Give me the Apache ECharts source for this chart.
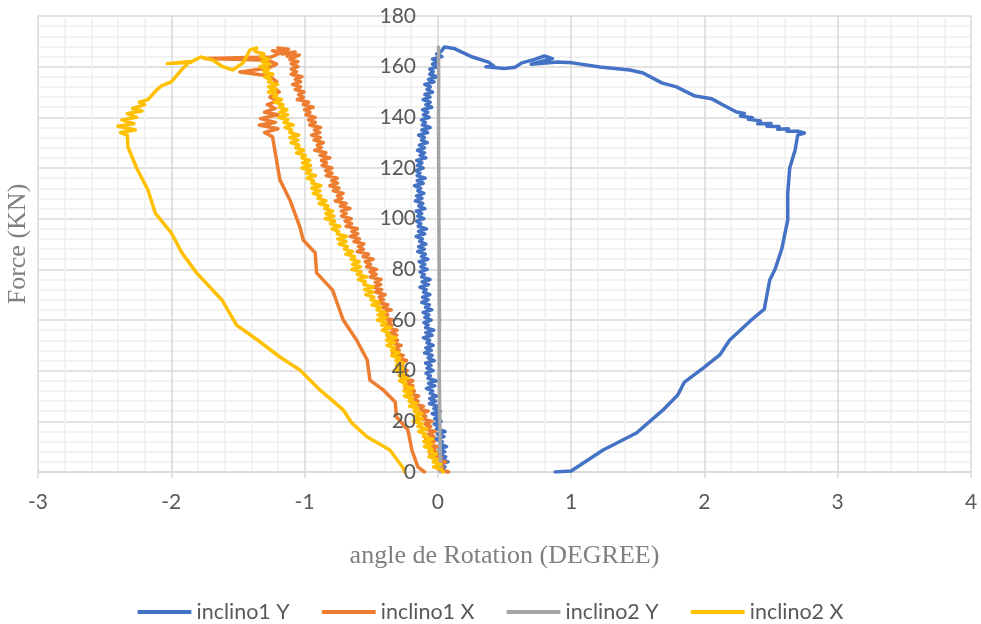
<!DOCTYPE html>
<html>
<head>
<meta charset="utf-8">
<script src="https://cdn.jsdelivr.net/npm/echarts@6/dist/echarts.min.js"></script>
<style>html,body{margin:0;padding:0;background:#fff}#c{width:981px;height:624px}</style>
</head>
<body>
<div id="c"></div>
<script>
// Series names
const seriesNames = ['inclino1 Y', 'inclino1 X', 'inclino2 Y', 'inclino2 X'];
// x tick values / y tick values
const xTicks = [-3, -2, -1, 0, 1, 2, 3, 4];
const yTicks = [0, 20, 40, 60, 80, 100, 120, 140, 160, 180];

// inclino1 Y : [angle (deg), force (kN)]
const inclino1Y = [
 [0.07,0],[0.024,1],[0.053,2],[0.012,3],[0.076,4],[0.03,5],[0.059,6],[0.003,7],[0.052,8],[0.011,9],
 [0.065,10],[0.017,11],[0.033,12],[-0.016,13],[0.046,14],[-0.003,15],[0.054,16],[-0.01,17],[0.007,18],[-0.027,19],
 [0.025,20],[-0.024,21],[0.002,22],[-0.042,23],[0.019,24],[-0.03,25],[-0.004,26],[-0.063,27],[-0.017,28],[-0.061,29],
 [-0.01,30],[-0.057,31],[-0.039,32],[-0.086,33],[-0.023,34],[-0.07,35],[-0.012,36],[-0.074,37],[-0.056,38],[-0.088,39],
 [-0.035,40],[-0.081,41],[-0.051,42],[-0.092,43],[-0.027,44],[-0.073,45],[-0.043,46],[-0.099,47],[-0.049,48],[-0.09,49],
 [-0.035,50],[-0.081,51],[-0.062,52],[-0.108,53],[-0.044,54],[-0.09,55],[-0.031,56],[-0.092,57],[-0.073,58],[-0.104,59],
 [-0.05,60],[-0.097,61],[-0.068,62],[-0.11,63],[-0.046,64],[-0.093,65],[-0.064,66],[-0.121,67],[-0.072,68],[-0.114,69],
 [-0.06,70],[-0.107,71],[-0.088,72],[-0.135,73],[-0.071,74],[-0.118,75],[-0.059,76],[-0.121,77],[-0.102,78],[-0.134,79],
 [-0.08,80],[-0.127,81],[-0.098,82],[-0.14,83],[-0.076,84],[-0.123,85],[-0.094,86],[-0.151,87],[-0.102,88],[-0.144,89],
 [-0.09,90],[-0.136,91],[-0.117,92],[-0.163,93],[-0.099,94],[-0.145,95],[-0.086,96],[-0.147,97],[-0.128,98],[-0.159,99],
 [-0.105,100],[-0.151,101],[-0.121,102],[-0.162,103],[-0.097,104],[-0.143,105],[-0.113,106],[-0.169,107],[-0.119,108],[-0.16,109],
 [-0.105,110],[-0.15,111],[-0.13,112],[-0.175,113],[-0.11,114],[-0.155,115],[-0.095,116],[-0.155,117],[-0.135,118],[-0.165,119],
 [-0.11,120],[-0.153,121],[-0.12,122],[-0.158,123],[-0.09,124],[-0.133,125],[-0.1,126],[-0.153,127],[-0.1,128],[-0.138,129],
 [-0.08,130],[-0.123,131],[-0.101,132],[-0.144,133],[-0.077,134],[-0.12,135],[-0.058,136],[-0.116,137],[-0.094,138],[-0.122,139],
 [-0.065,140],[-0.108,141],[-0.076,142],[-0.114,143],[-0.047,144],[-0.09,145],[-0.058,146],[-0.111,147],[-0.059,148],[-0.097,149],
 [-0.04,150],[-0.081,151],[-0.057,152],[-0.098,153],[-0.029,154],[-0.07,155],[-0.005,156],[-0.06,157],[-0.035,158],[-0.06,159],
 [0.0,160],[-0.04,161],[-0.005,162],[-0.04,163],[0.03,164],[-0.01,165],[0.025,166],[0.05,167.8],
 [0.12,167.2],[0.26,163.8],[0.38,161.8],[0.42,160.2],[0.36,160.0],[0.5,159.3],[0.58,159.8],[0.63,161.5],[0.72,162.8],
 [0.8,164.2],[0.86,163.2],[0.7,161.0],[0.9,161.8],[1.01,161.5],[1.215,159.9],[1.44,158.7],[1.54,157.5],[1.68,153.6],
 [1.79,152.0],[1.93,148.4],[2.055,147.3],[2.14,144.9],[2.24,142.1],[2.3,141.5],[2.27,140.5],[2.36,139.8],[2.33,139.2],
 [2.42,138.6],[2.4,137.5],[2.5,137.6],[2.47,136.5],[2.56,136.4],[2.55,135.3],[2.63,135.5],[2.62,134.5],[2.7,134.5],
 [2.75,133.8],[2.7,133.0],[2.68,127],[2.64,120],[2.625,110],[2.625,99.5],[2.58,88],[2.53,80],[2.49,75.8],[2.455,66],
 [2.45,64.3],[2.36,60.4],[2.19,52.1],[2.115,46.2],[2.0,41.4],[1.85,35.5],[1.8,30.4],[1.69,24.5],[1.49,15.4],
 [1.24,8.7],[1.0,0.4],[0.88,0]
];

// inclino1 X
const inclino1X = [
 [-0.1,0],[-0.15,2],[-0.195,8.7],[-0.225,16.6],[-0.31,21.7],[-0.32,27.6],[-0.41,32.4],[-0.51,36.3],[-0.53,44.2],
 [-0.61,52.1],[-0.71,60],[-0.79,71.8],[-0.91,78.6],[-0.92,86.5],[-1.01,91.6],[-1.035,96.7],[-1.11,107.4],
 [-1.185,115.3],[-1.22,126],[-1.24,132.3],
 [-1.3,134],[-1.2,135.5],[-1.34,137],[-1.22,138],[-1.33,139.5],[-1.2,141],[-1.3,142],[-1.22,143.5],[-1.28,145],
 [-1.2,146.5],[-1.26,148],[-1.19,150],[-1.24,152],[-1.21,154],[-1.26,156.3],[-1.485,157.9],[-1.27,159.5],
 [-1.21,161],[-1.27,162.5],[-1.75,163.2],[-1.25,163.8],[-1.19,165.2],[-1.24,166.3],[-1.15,165.6],[-1.2,167.4],
 [-1.12,166.9],[-1.17,165.0],[-1.07,165.8],[-1.13,164.1],[-1.04,164.6],[-1.11,162.8],[-1.05,162.0],[-1.1,161.2],
 [-1.05,160],[-1.10,159],[-1.06,158],[-1.10,157],[-1.02,156],[-1.07,155],[-1.03,154],[-1.09,153],[-1.03,152],[-1.07,151],
 [-1.005,150],[-1.045,149],[-1.01,148],[-1.055,147],[-0.97,146],[-1.01,145],[-0.935,144],[-1.0,143],[-0.96,142],[-0.99,141],
 [-0.92,140],[-0.97,139],[-0.92,138],[-0.96,137],[-0.88,136],[-0.926,135],[-0.886,134],[-0.947,133],[-0.882,132],[-0.928,131],
 [-0.859,130],[-0.904,129],[-0.875,128],[-0.923,127],[-0.84,126],[-0.883,125],[-0.81,124],[-0.873,123],[-0.835,122],[-0.868,121],
 [-0.795,120],[-0.843,119],[-0.795,118],[-0.837,117],[-0.754,116],[-0.796,115],[-0.753,114],[-0.81,113],[-0.742,112],[-0.784,111],
 [-0.711,110],[-0.753,109],[-0.72,108],[-0.769,107],[-0.688,106],[-0.731,105],[-0.66,104],[-0.724,103],[-0.688,102],[-0.721,101],
 [-0.65,100],[-0.696,99],[-0.647,98],[-0.688,97],[-0.604,96],[-0.645,95],[-0.601,94],[-0.657,93],[-0.588,92],[-0.629,91],
 [-0.555,90],[-0.595,89],[-0.56,88],[-0.605,87],[-0.52,86],[-0.56,85],[-0.485,84],[-0.545,83],[-0.505,82],[-0.535,81],
 [-0.46,80],[-0.509,79],[-0.463,78],[-0.507,77],[-0.426,76],[-0.47,75],[-0.429,74],[-0.488,73],[-0.422,72],[-0.466,71],
 [-0.395,70],[-0.439,69],[-0.408,68],[-0.457,67],[-0.376,66],[-0.42,65],[-0.349,64],[-0.413,63],[-0.377,62],[-0.411,61],
 [-0.34,60],[-0.389,59],[-0.343,58],[-0.387,57],[-0.306,56],[-0.35,55],[-0.309,54],[-0.368,53],[-0.302,52],[-0.346,51],
 [-0.275,50],[-0.32,49],[-0.29,48],[-0.34,47],[-0.26,46],[-0.305,45],[-0.235,44],[-0.30,43],[-0.265,42],[-0.30,41],
 [-0.23,40],[-0.277,39],[-0.229,38],[-0.271,37],[-0.188,36],[-0.23,35],[-0.187,34],[-0.244,33],[-0.176,32],[-0.218,31],
 [-0.145,30],[-0.185,29],[-0.149,28],[-0.194,27],[-0.108,26],[-0.148,25],[-0.072,24],[-0.132,23],[-0.091,22],[-0.121,21],
 [-0.045,20],[-0.097,19],[-0.053,18],[-0.1,17],[-0.021,16],[-0.068,15],[-0.029,14],[-0.091,13],[-0.027,12],[-0.074,11],
 [-0.005,10],[-0.046,9],[-0.012,8],[-0.058,7],[0.026,6],[-0.015,5],[0.059,4],[-0.002,3],[0.037,2],[0.006,1],[0.08,0]
];

// inclino2 Y
const inclino2Y = [
 [0.02,0],[0.015,20],[0.01,40],[0.012,60],[0.01,80],[0.008,100],[0.006,120],[0.005,140],[0.006,155],[0.005,167.8]
];

// inclino2 X
const inclino2X = [
 [-0.25,0],[-0.26,1.6],[-0.36,8.7],[-0.49,12.6],[-0.53,13.8],[-0.645,19.3],[-0.71,24.5],[-0.885,32.4],[-1.035,40.3],
 [-1.185,45.4],[-1.35,52],[-1.51,58],[-1.62,67.9],[-1.81,78.6],[-1.92,86.5],[-2.0,94.4],[-2.12,102.2],[-2.175,111.3],
 [-2.26,120],[-2.325,128.3],[-2.33,133],
 [-2.38,134],[-2.27,135],[-2.4,136.5],[-2.28,137.5],[-2.37,139],[-2.26,140],[-2.33,141.5],[-2.22,142.5],[-2.29,143.5],
 [-2.2,145],[-2.24,146],[-2.175,147],[-2.11,150.8],[-2.07,152.5],[-2.0,154],[-1.91,159.5],[-1.86,162],[-2.03,161.2],
 [-1.86,161.6],[-1.78,163.8],[-1.69,162.6],[-1.61,159.9],[-1.54,158.7],[-1.46,161.5],[-1.41,166.6],[-1.36,167.4],
 [-1.37,166],[-1.305,165],[-1.33,164],[-1.27,163],[-1.32,162],[-1.265,161],[-1.335,160],[-1.27,159],[-1.305,158],[-1.238,157],
 [-1.30,156],[-1.255,155],[-1.27,154],[-1.203,153],[-1.27,152],[-1.215,151],[-1.27,150],[-1.21,149],[-1.23,148],[-1.173,147],
 [-1.225,146],[-1.163,145],[-1.19,144],[-1.133,143],[-1.185,142],[-1.128,141],[-1.195,140],[-1.125,139],[-1.155,138],[-1.085,137],
 [-1.145,136],[-1.098,135],[-1.11,134],[-1.043,133],[-1.11,132],[-1.05,131],[-1.10,130],[-1.043,129],[-1.065,128],[-1.008,127],
 [-1.06,126],[-0.995,125],[-1.02,124],[-0.963,123],[-1.015,122],[-0.955,121],[-1.02,120],[-0.953,119],[-0.985,118],[-0.918,117],
 [-0.98,116],[-0.933,115],[-0.945,114],[-0.878,113],[-0.945,112],[-0.885,111],[-0.935,110],[-0.878,109],[-0.90,108],[-0.84,107],
 [-0.89,106],[-0.825,105],[-0.85,104],[-0.79,103],[-0.84,102],[-0.78,101],[-0.845,100],[-0.775,99],[-0.805,98],[-0.735,97],
 [-0.795,96],[-0.745,95],[-0.755,94],[-0.685,93],[-0.75,92],[-0.69,91],[-0.74,90],[-0.68,89],[-0.70,88],[-0.64,87],
 [-0.69,86],[-0.625,85],[-0.65,84],[-0.59,83],[-0.64,82],[-0.58,81],[-0.645,80],[-0.575,79],[-0.605,78],[-0.535,77],
 [-0.595,76],[-0.545,75],[-0.555,74],[-0.485,73],[-0.55,72],[-0.49,71],[-0.54,70],[-0.481,69],[-0.502,68],[-0.443,67],
 [-0.494,66],[-0.43,65],[-0.456,64],[-0.397,63],[-0.448,62],[-0.389,61],[-0.455,60],[-0.388,59],[-0.421,58],[-0.354,57],
 [-0.417,56],[-0.37,55],[-0.383,54],[-0.316,53],[-0.384,52],[-0.327,51],[-0.38,50],[-0.324,49],[-0.348,48],[-0.292,47],
 [-0.346,46],[-0.285,45],[-0.314,44],[-0.258,43],[-0.312,42],[-0.256,41],[-0.325,40],[-0.258,39],[-0.291,38],[-0.224,37],
 [-0.287,36],[-0.24,35],[-0.253,34],[-0.186,33],[-0.254,32],[-0.197,31],[-0.25,30],[-0.193,29],[-0.216,28],[-0.159,27],
 [-0.212,26],[-0.15,25],[-0.178,24],[-0.121,23],[-0.174,22],[-0.117,21],[-0.185,20],[-0.117,19],[-0.149,18],[-0.081,17],
 [-0.143,16],[-0.095,15],[-0.107,14],[-0.039,13],[-0.106,12],[-0.048,11],[-0.10,10],[-0.044,9],[-0.068,8],[-0.012,7],
 [-0.066,6],[-0.005,5],[-0.034,4],[0.022,3],[-0.032,2],[0.024,1],[0.04,0]
];

const colors = ['#4472C4', '#ED7D31', '#A5A5A5', '#FFC000'];
const seriesData = [inclino1Y, inclino1X, inclino2Y, inclino2X];

const chart = echarts.init(document.getElementById('c'), null, {renderer: 'canvas'});
const labelFont = 'Lato, "Open Sans", sans-serif';
const titleFont = '"Liberation Serif", "DejaVu Serif", serif';

chart.setOption({
  animation: false,
  backgroundColor: '#ffffff',
  color: colors,
  grid: {left: 38, right: 10, top: 16, bottom: 152, containLabel: false, outerBoundsMode: 'none'},
  xAxis: {
    type: 'value',
    min: xTicks[0], max: xTicks[xTicks.length - 1], interval: 1,
    name: 'angle de Rotation (DEGREE)',
    nameLocation: 'middle', nameGap: 71,
    nameTextStyle: {fontFamily: titleFont, fontSize: 26, color: '#7f7f7f'},
    axisLine: {show: true, onZero: false, lineStyle: {color: '#d9d9d9', width: 1.5}},
    axisTick: {show: true, length: 6, lineStyle: {color: '#d9d9d9', width: 1.5}},
    axisLabel: {fontFamily: labelFont, fontSize: 21, color: '#595959', margin: 20},
    splitLine: {show: true, lineStyle: {color: '#d9d9d9', width: 1.5}},
    minorTick: {show: false, splitNumber: 5},
    minorSplitLine: {show: true, lineStyle: {color: '#efefef', width: 1.5}}
  },
  yAxis: [{
    // grid lines + title
    type: 'value',
    min: yTicks[0], max: yTicks[yTicks.length - 1], interval: 20,
    offset: -400,
    name: 'Force (KN)',
    nameLocation: 'middle', nameGap: 407, nameRotate: 90,
    nameTextStyle: {fontFamily: titleFont, fontSize: 26, color: '#7f7f7f'},
    axisLine: {show: false, onZero: false},
    axisTick: {show: false},
    axisLabel: {show: false},
    splitLine: {show: true, lineStyle: {color: '#d9d9d9', width: 1.5}},
    minorTick: {show: false, splitNumber: 5},
    minorSplitLine: {show: true, lineStyle: {color: '#efefef', width: 1.5}}
  }, {
    // tick labels drawn above the series, at x = 0
    type: 'value', position: 'left',
    min: yTicks[0], max: yTicks[yTicks.length - 1], interval: 20,
    offset: -400,
    z: 20,
    axisLine: {show: false, onZero: false},
    axisTick: {show: false},
    splitLine: {show: false},
    axisLabel: {fontFamily: labelFont, fontSize: 21, color: '#595959', margin: 22}
  }],
  legend: {
    show: true,
    data: seriesNames,
    left: 'center', top: 596,
    icon: 'roundRect', itemWidth: 54, itemHeight: 4, itemGap: 32,
    textStyle: {fontFamily: labelFont, fontSize: 21.5, color: '#595959'}
  },
  series: seriesData.map((d, i) => ({
    name: seriesNames[i],
    type: 'line',
    yAxisIndex: 0,
    data: d,
    symbol: 'none',
    showSymbol: false,
    smooth: false,
    clip: true,
    lineStyle: {color: colors[i], width: 3.5, join: 'round', cap: 'round'},
    itemStyle: {color: colors[i]},
    z: 2 + i
  }))
});
</script>
</body>
</html>
